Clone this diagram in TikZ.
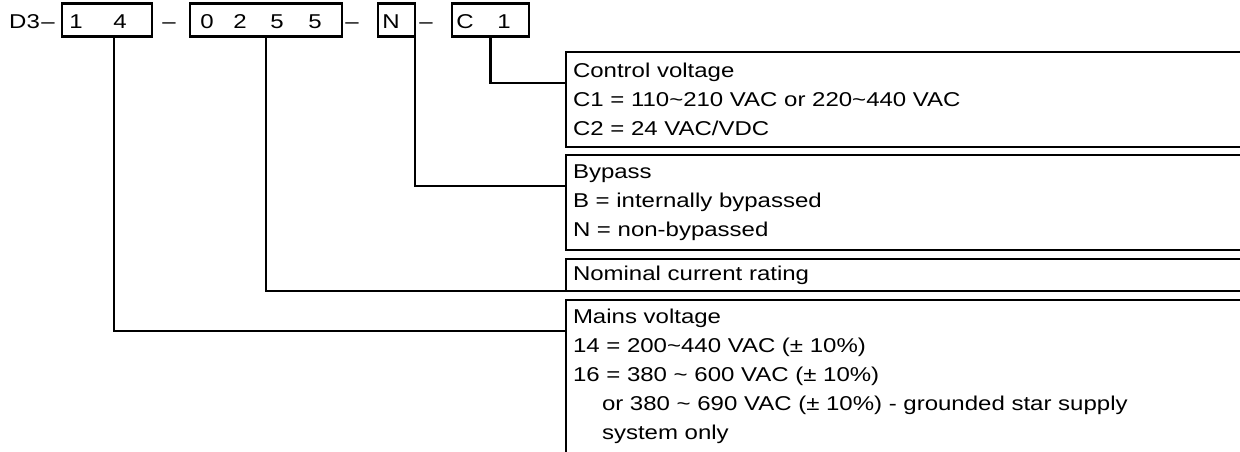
\documentclass[tikz,border=0pt]{standalone}
\usepackage{fontspec}
\usetikzlibrary{positioning,calc}
\newfontfamily\labelfont[FakeStretch=1.2,Ligatures=TeX]{Liberation Sans}
\definecolor{Ink}{HTML}{000000}

\tikzset{
  wire/.style={Ink,line width=2.3pt},
  cell/.style={draw=Ink,line width=2.3pt,anchor=north west,minimum height=33pt,
    inner sep=0pt,outer sep=0pt},
  glyph/.style={anchor=base,inner sep=0pt,text=Ink,
    font={\labelfont\fontsize{20pt}{24pt}\selectfont}},
  desc/.style={draw=Ink,line width=2.3pt,anchor=north west,align=left,
    text width=700pt,inner xsep=7pt,inner ysep=9.4pt,outer sep=0pt,text=Ink,
    font={\labelfont\fontsize{20pt}{29pt}\selectfont}}
}

\begin{document}
\begin{tikzpicture}[x=1pt,y=-1pt]
        \useasboundingbox (0,0) rectangle (1240,452);
        \clip (0,0) rectangle (1240,452);
        % type code
        \node[glyph,anchor=base west] (code) at (9,28.5) {D3};
        \foreach \dx [count=\i] in {48,169,352,426}
          \node[glyph] (dash\i) at (\dx,28.5) {\textendash};
        \node[cell,minimum width=90pt] (c14) at (62,3.5) {};
        \node[cell,minimum width=152pt] (c0255) at (190,3.5) {};
        \node[cell,minimum width=37pt] (cN) at (378,3.5) {};
        \node[cell,minimum width=77pt] (cC1) at (452,3.5) {};
        \foreach \ch/\cx [count=\i] in {1/76,4/120,0/207,2/240,5/277,5/315,N/391,C/465,1/504}
          \node[glyph] (ch\i) at (\cx,28.5) {\ch};
        % explanations
        \node[desc,minimum height=95pt] (ctrl) at (566,52)
              {Control voltage\\
               C1 = 110\textasciitilde210 VAC or 220\textasciitilde440 VAC\\
               C2 = 24 VAC/VDC};
        \node[desc,minimum height=95pt] (bypass) at (566,155)
              {Bypass\\
               B = internally bypassed\\
               N = non-bypassed};
        \node[desc,minimum height=32pt,inner ysep=6.5pt] (nominal) at (566,259)
              {Nominal current rating};
        \node[desc] (mains) at (566,300)
              {Mains voltage\\
               14 = 200\textasciitilde440 VAC (± 10\%)\\
               16 = 380 \textasciitilde{} 600 VAC (± 10\%)\\
               \hspace*{29pt}or 380 \textasciitilde{} 690 VAC (± 10\%) - grounded star supply\\
               \hspace*{29pt}system only};
        % leaders
        \draw[wire] (cC1.south) |- ([yshift=-31pt]ctrl.north west);
        \draw[wire] (cN.south east) |- ([yshift=-31pt]bypass.north west);
        \draw[wire] (c0255.south) |- (nominal.south west);
        \draw[wire] ([xshift=7pt]c14.south) |- ([yshift=-31pt]mains.north west);
      \end{tikzpicture}
\end{document}
